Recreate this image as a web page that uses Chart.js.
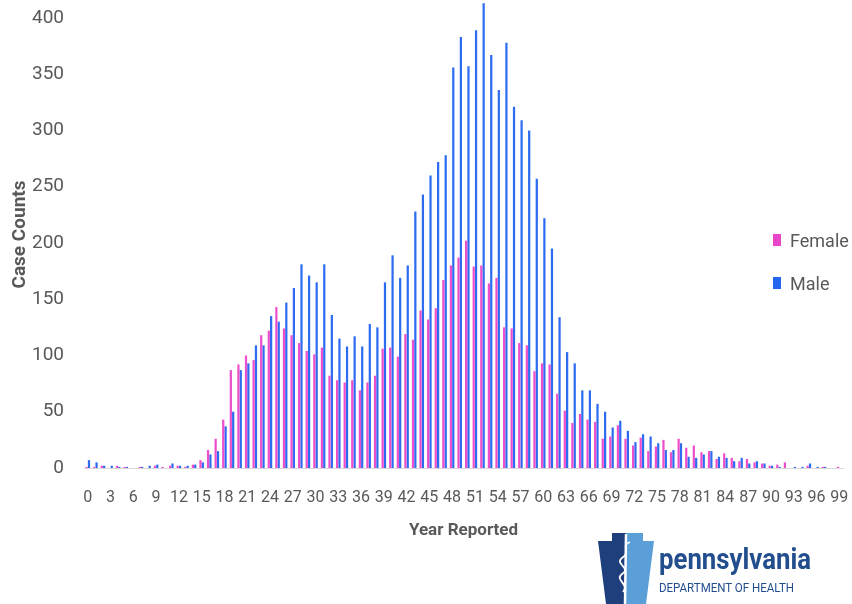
<!DOCTYPE html>
<html>
<head>
<meta charset="utf-8">
<script src="https://cdn.jsdelivr.net/npm/chart.js@4.4.0/dist/chart.umd.min.js"></script>
<style>
    body { margin: 0; background: #fff; }
    #wrap { position: relative; width: 852px; height: 604px; overflow: hidden; }
    #chart { position: absolute; left: 0; top: 0; }
    .legend-item {
        position: absolute; left: 773px; height: 24px;
        display: flex; align-items: center;
        font-family: Roboto, 'Liberation Sans', sans-serif;
        font-size: 18px; color: #595959;
    }
    .legend-item span.box { display: inline-block; width: 8px; height: 12px; margin-right: 9px; }
    #logo { position: absolute; left: 590px; top: 520px; }
</style>
</head>
<body>
<div id="wrap">
    <canvas id="chart" width="852" height="604"></canvas>
    <div class="legend-item" style="top:228px"><span class="box" style="background:#E845C8"></span>Female</div>
    <div class="legend-item" style="top:271px"><span class="box" style="background:#2466F0"></span>Male</div>
    <svg id="logo" width="240" height="84" viewBox="0 0 240 84">
        <defs>
            <clipPath id="keystone">
                <polygon points="8,21 22,21 22,13 53,13 53,21 64,21 56,84 16,84"/>
            </clipPath>
        </defs>
        <g clip-path="url(#keystone)">
            <rect x="0" y="0" width="36" height="84" fill="#1E3F7C"/>
            <rect x="36" y="0" width="40" height="84" fill="#5B9FD8"/>
            <path d="M36 14 L35 84" stroke="#fff" stroke-width="2.5"/>
            <path d="M40 22 C30 26 42 32 32 38 C24 44 42 48 32 54 C24 60 40 64 33 72" stroke="#fff" stroke-width="1.8" fill="none"/>
        </g>
        <text x="69" y="49" font-family="Roboto, 'Liberation Sans', sans-serif" font-weight="bold" font-size="29" fill="#234E8E" textLength="152" lengthAdjust="spacingAndGlyphs">pennsylvania</text>
        <text x="69" y="72" font-family="Roboto, 'Liberation Sans', sans-serif" font-size="13" fill="#234E8E" textLength="135" lengthAdjust="spacingAndGlyphs">DEPARTMENT OF HEALTH</text>
    </svg>
</div>
<script>
// Edad (0-99)
const ages = [
    '0','1','2','3','4','5','6','7','8','9',
    '10','11','12','13','14','15','16','17','18','19',
    '20','21','22','23','24','25','26','27','28','29',
    '30','31','32','33','34','35','36','37','38','39',
    '40','41','42','43','44','45','46','47','48','49',
    '50','51','52','53','54','55','56','57','58','59',
    '60','61','62','63','64','65','66','67','68','69',
    '70','71','72','73','74','75','76','77','78','79',
    '80','81','82','83','84','85','86','87','88','89',
    '90','91','92','93','94','95','96','97','98','99'
];

const femaleCounts = [
    1, 1, 2, 0, 2, 1, 0, 1, 0, 2,
    1, 2, 2, 1, 3, 7, 16, 26, 43, 87,
    92, 100, 96, 118, 122, 143, 124, 118, 111, 104,
    101, 107, 82, 78, 76, 78, 69, 76, 82, 106,
    107, 99, 119, 114, 140, 132, 142, 167, 180, 187,
    202, 179, 180, 164, 169, 125, 124, 111, 109, 86,
    93, 92, 66, 51, 40, 48, 43, 41, 26, 28,
    38, 26, 20, 27, 15, 19, 25, 14, 26, 18,
    20, 14, 15, 8, 13, 9, 6, 8, 5, 4,
    2, 3, 5, 0, 0, 2, 0, 1, 0, 1
];

const maleCounts = [
    7, 5, 2, 2, 1, 1, 0, 1, 2, 3,
    0, 4, 2, 2, 3, 5, 12, 15, 37, 50,
    87, 93, 109, 109, 135, 130, 147, 160, 181, 171,
    165, 181, 136, 115, 108, 117, 108, 128, 125, 165,
    189, 169, 180, 228, 243, 260, 272, 278, 356, 383,
    357, 389, 413, 367, 336, 378, 321, 309, 300, 257,
    222, 195, 134, 103, 93, 69, 69, 57, 50, 36,
    42, 33, 23, 30, 28, 22, 16, 16, 22, 10,
    9, 12, 15, 10, 9, 6, 9, 4, 6, 4,
    2, 1, 0, 1, 1, 4, 1, 1, 0, 0
];

const fontFamily = "Roboto, 'Liberation Sans', sans-serif";
const textColor = '#595959';

const ctx = document.getElementById('chart').getContext('2d');

new Chart(ctx, {
    type: 'bar',
    data: {
        labels: ages,
        datasets: [
            {
                label: 'Female',
                data: femaleCounts,
                backgroundColor: '#EC4FCB'
            },
            {
                label: 'Male',
                data: maleCounts,
                backgroundColor: '#2D6CF0'
            }
        ]
    },
    options: {
        responsive: false,
        animation: false,
        layout: {
            padding: { left: 0, right: 9, top: 1, bottom: 0 }
        },
        datasets: {
            bar: { categoryPercentage: 0.62, barPercentage: 0.95 }
        },
        plugins: {
            legend: { display: false },
            tooltip: { enabled: false }
        },
        scales: {
            x: {
                grid: { display: false, drawTicks: false },
                border: { display: true, color: '#d9d9d9', width: 1 },
                ticks: {
                    autoSkip: false,
                    maxRotation: 0,
                    minRotation: 0,
                    padding: 20,
                    color: textColor,
                    font: { family: fontFamily, size: 16 },
                    callback: function(value, index) {
                        return index % 3 === 0 ? this.getLabelForValue(value) : '';
                    }
                },
                title: {
                    display: true,
                    text: 'Year Reported',
                    color: textColor,
                    font: { family: fontFamily, size: 17, weight: 'bold' },
                    padding: { top: 0, bottom: 63 }
                },
                afterFit: function(scale) {
                    scale.height = 136;
                    scale.paddingLeft = 0;
                    scale.paddingRight = 0;
                }
            },
            y: {
                min: 0,
                max: 415,
                grid: { display: false, drawTicks: false },
                border: { display: false },
                ticks: {
                    stepSize: 50,
                    includeBounds: false,
                    padding: 20,
                    color: textColor,
                    font: { family: fontFamily, size: 19 }
                },
                title: {
                    display: true,
                    text: 'Case Counts',
                    color: textColor,
                    font: { family: fontFamily, size: 19, weight: 'bold' },
                    padding: { top: 9, bottom: 0 }
                },
                afterFit: function(scale) {
                    scale.width = 84;
                    scale.paddingTop = 0;
                    scale.paddingBottom = 0;
                }
            }
        }
    }
});
</script>
</body>
</html>
